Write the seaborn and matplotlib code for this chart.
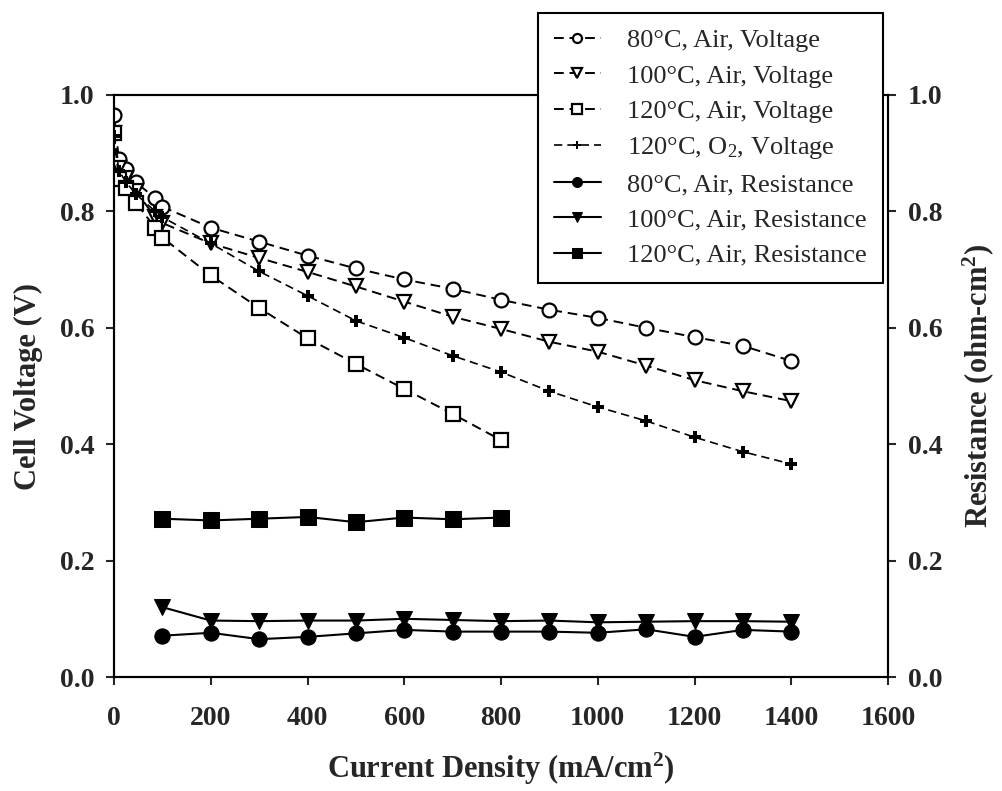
import numpy as np
import pandas as pd
import seaborn as sns
import matplotlib
matplotlib.use("Agg")
import matplotlib.pyplot as plt

# current density (mA/cm2)
i_volt = [0, 10, 25, 45, 85, 100, 200, 300, 400, 500, 600, 700, 800,
          900, 1000, 1100, 1200, 1300, 1400]
i_volt_120 = [0, 10, 25, 45, 85, 100, 200, 300, 400, 500, 600, 700, 800]
i_res = [100, 200, 300, 400, 500, 600, 700, 800, 900, 1000, 1100, 1200, 1300, 1400]
i_res_120 = [100, 200, 300, 400, 500, 600, 700, 800]

# cell voltage (V)
v80_air = [0.965, 0.89, 0.872, 0.85, 0.823, 0.808, 0.772, 0.748, 0.724, 0.702,
           0.683, 0.667, 0.648, 0.631, 0.617, 0.600, 0.584, 0.569, 0.543]
v100_air = [0.935, 0.875, 0.858, 0.835, 0.79, 0.78, 0.745, 0.72, 0.696, 0.671,
            0.645, 0.619, 0.598, 0.576, 0.559, 0.535, 0.51, 0.491, 0.474]
v120_air = [0.935, 0.855, 0.84, 0.815, 0.772, 0.755, 0.69, 0.634, 0.582, 0.538,
            0.495, 0.452, 0.407]
v120_o2 = [0.93, 0.87, 0.85, 0.83, 0.80, 0.79, 0.745, 0.697, 0.655, 0.612,
           0.583, 0.552, 0.524, 0.491, 0.464, 0.44, 0.412, 0.387, 0.366]

# resistance (ohm-cm2)
r80_air = [0.071, 0.076, 0.065, 0.069, 0.075, 0.081, 0.078, 0.078, 0.078,
           0.076, 0.082, 0.069, 0.081, 0.078]
r100_air = [0.12, 0.097, 0.096, 0.097, 0.097, 0.1, 0.098, 0.096, 0.097,
            0.094, 0.095, 0.096, 0.096, 0.095]
r120_air = [0.272, 0.269, 0.272, 0.275, 0.266, 0.274, 0.271, 0.274]

sns.set_style("ticks")
plt.rcParams['font.family'] = ['Liberation Serif', 'DejaVu Serif']
plt.rcParams['mathtext.fontset'] = 'custom'
plt.rcParams['mathtext.rm'] = 'Liberation Serif'
plt.rcParams['mathtext.it'] = 'Liberation Serif:italic'
plt.rcParams['mathtext.bf'] = 'Liberation Serif:bold'

fig = plt.figure(figsize=(10.02, 7.91), dpi=100)
ax = fig.add_axes([0.1138, 0.1441, 0.7725, 0.7358])
ax2 = ax.twinx()

dash = (0, (5, 3))
volt_series = [
    (i_volt, v80_air, 'o', '80°C, Air, Voltage'),
    (i_volt, v100_air, 'v', '100°C, Air, Voltage'),
    (i_volt_120, v120_air, 's', '120°C, Air, Voltage'),
]
for xs, ys, mk, lab in volt_series:
    sns.lineplot(x=xs, y=ys, ax=ax, color='black', linestyle=dash, lw=1.4,
                 marker=mk, markersize=10, mfc='white', mec='black', mew=1.6,
                 label=lab)
sns.lineplot(x=i_volt, y=v120_o2, ax=ax, color='black', linestyle=dash, lw=1.2,
             marker='P', markersize=8, mfc='black', mec='black', mew=0,
             label='120°C, O$_2$, Voltage')

res_series = [
    (i_res, r80_air, 'o', '80°C, Air, Resistance'),
    (i_res, r100_air, 'v', '100°C, Air, Resistance'),
    (i_res_120, r120_air, 's', '120°C, Air, Resistance'),
]
for xs, ys, mk, lab in res_series:
    sns.lineplot(x=xs, y=ys, ax=ax2, color='black', lw=1.5,
                 marker=mk, markersize=11, mfc='black', mec='black',
                 label=lab)

h1, l1 = ax.get_legend_handles_labels()
h2, l2 = ax2.get_legend_handles_labels()
for a in (ax, ax2):
    if a.get_legend() is not None:
        a.get_legend().remove()

ax.set_xlim(0, 1600)
ax.set_ylim(0, 1.0)
ax2.set_ylim(0, 1.0)
ax.set_xticks(np.arange(0, 1601, 200))
ax.set_yticks(np.arange(0, 1.01, 0.2))
ax2.set_yticks(np.arange(0, 1.01, 0.2))
ax.yaxis.set_major_formatter(matplotlib.ticker.FormatStrFormatter('%.1f'))
ax2.yaxis.set_major_formatter(matplotlib.ticker.FormatStrFormatter('%.1f'))

for a in (ax, ax2):
    a.tick_params(direction='out', length=6, width=1.5, labelsize=20, pad=8)
    for lbl in a.get_xticklabels() + a.get_yticklabels():
        lbl.set_fontweight('bold')
    for s in a.spines.values():
        s.set_linewidth(1.5)
        s.set_color('black')
ax.tick_params(axis='x', pad=15)

ax.set_xlabel('Current Density (mA/cm$^\\mathbf{2}$)', fontsize=22,
              fontweight='bold', labelpad=14)
ax.set_ylabel('Cell Voltage (V)', fontsize=22, fontweight='bold', labelpad=12)
ax2.set_ylabel('Resistance (ohm-cm$^\\mathbf{2}$)', fontsize=22,
               fontweight='bold', labelpad=13)

leg = fig.legend(h1 + h2, l1 + l2, loc='upper right',
                 bbox_to_anchor=(883 / 1002, 1 - 13 / 791),
                 borderaxespad=0, fontsize=19, frameon=True, fancybox=False,
                 edgecolor='black', framealpha=1, labelspacing=0.45,
                 handlelength=1.8, handletextpad=1.0, markerscale=0.65,
                 borderpad=0.6)
leg.get_frame().set_linewidth(1.5)

fig.savefig('out.png', dpi=100)
